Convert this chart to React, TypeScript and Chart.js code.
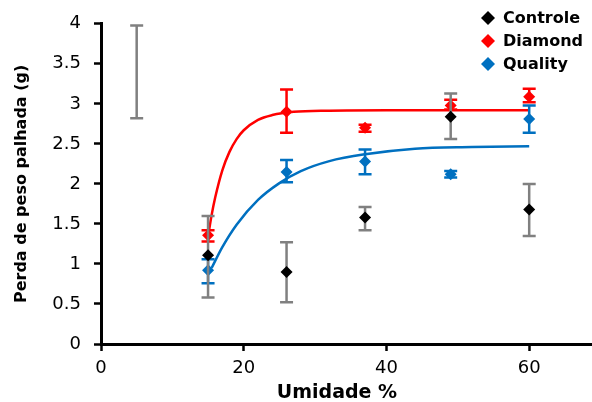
import React, { useEffect, useRef } from "react";
import { Chart, registerables } from "chart.js";

Chart.register(...registerables);

// Humidity levels (x)
const humidity = [15, 26, 37, 49, 60];

// Controle
const controleMean = [1.11, 0.9, 1.58, 2.84, 1.68];
const controleLow = [0.58, 0.52, 1.42, 2.56, 1.35];
const controleHigh = [1.6, 1.27, 1.71, 3.13, 2.0];

// Diamond
const diamondMean = [1.36, 2.9, 2.7, 2.98, 3.09];
const diamondLow = [1.28, 2.64, 2.65, 2.93, 3.02];
const diamondHigh = [1.42, 3.18, 2.74, 3.05, 3.19];

// Quality
const qualityMean = [0.92, 2.15, 2.28, 2.12, 2.81];
const qualityLow = [0.76, 2.02, 2.12, 2.08, 2.64];
const qualityHigh = [1.06, 2.3, 2.43, 2.16, 2.98];

// Stray grey error bar near the y axis
const strayX = 5;
const strayLow = 2.82;
const strayHigh = 3.98;

// Fitted curves
const redCurveX = [15, 15.5, 16, 17, 18, 19, 20, 22, 24, 27, 32, 40, 50, 60];
const redCurveY = [1.34, 1.61, 1.83, 2.17, 2.4, 2.56, 2.67, 2.8, 2.86, 2.9, 2.915, 2.92, 2.92, 2.92];
const blueCurveX = [15.5, 17, 19, 22, 25, 28, 32, 37, 44, 52, 60];
const blueCurveY = [0.95, 1.21, 1.49, 1.8, 2.01, 2.16, 2.285, 2.37, 2.44, 2.46, 2.47];

const xTicks = [0, 20, 40, 60];
const legendLabels = ["Controle", "Diamond", "Quality"];

const BLACK = "#000000";
const GREY = "#808080";
const RED = "#FF0000";
const BLUE = "#0070C0";
const legendColors = [BLACK, RED, BLUE];

const pts = (xs: number[], ys: number[]) => xs.map((x, i) => ({ x, y: ys[i] }));

function drawBar(ctx: any, x: number, y1: number, y2: number) {
  ctx.beginPath();
  ctx.moveTo(x, y1);
  ctx.lineTo(x, y2);
  ctx.moveTo(x - 6.5, y1);
  ctx.lineTo(x + 6.5, y1);
  ctx.moveTo(x - 6.5, y2);
  ctx.lineTo(x + 6.5, y2);
  ctx.stroke();
}

const errorBarPlugin = {
  id: "errorBars",
  beforeDatasetsDraw(chart: any) {
    const { ctx, scales } = chart;
    ctx.save();
    ctx.strokeStyle = GREY;
    ctx.lineWidth = 2.5;
    drawBar(
      ctx,
      scales.x.getPixelForValue(strayX),
      scales.y.getPixelForValue(strayLow),
      scales.y.getPixelForValue(strayHigh)
    );
    ctx.restore();
  },
  beforeDatasetDraw(chart: any, args: any) {
    const ds = chart.data.datasets[args.index];
    if (!ds.errLow) return;
    const { ctx, scales } = chart;
    ctx.save();
    ctx.strokeStyle = ds.errColor;
    ctx.lineWidth = 2.5;
    ds.data.forEach((p: any, i: number) => {
      drawBar(
        ctx,
        scales.x.getPixelForValue(p.x),
        scales.y.getPixelForValue(ds.errLow[i]),
        scales.y.getPixelForValue(ds.errHigh[i])
      );
    });
    ctx.restore();
  },
};

const textPlugin = {
  id: "texts",
  afterDraw(chart: any) {
    const { ctx, chartArea } = chart;
    ctx.save();
    // legend
    ctx.font = "bold 16px 'DejaVu Sans'";
    ctx.textBaseline = "middle";
    ctx.textAlign = "left";
    legendLabels.forEach((lab, i) => {
      const cy = 18 + i * 23;
      const cx = 488;
      const r = 7;
      ctx.fillStyle = legendColors[i];
      ctx.beginPath();
      ctx.moveTo(cx, cy - r);
      ctx.lineTo(cx + r, cy);
      ctx.lineTo(cx, cy + r);
      ctx.lineTo(cx - r, cy);
      ctx.closePath();
      ctx.fill();
      ctx.fillStyle = BLACK;
      ctx.fillText(lab, 503, cy + 1);
    });
    // axis titles
    ctx.fillStyle = BLACK;
    ctx.textAlign = "center";
    ctx.font = "bold 19px 'DejaVu Sans'";
    ctx.fillText("Umidade %", 337, 393);
    ctx.translate(22, (chartArea.top + chartArea.bottom) / 2);
    ctx.rotate(-Math.PI / 2);
    ctx.font = "bold 16px 'DejaVu Sans'";
    ctx.fillText("Perda de peso palhada (g)", 0, 0);
    ctx.restore();
  },
};

const scatterSet = (label: string, ys: number[], lo: number[], hi: number[], color: string, errColor: string) =>
  ({
    label,
    data: pts(humidity, ys),
    backgroundColor: color,
    borderColor: color,
    pointStyle: "rectRot",
    pointRadius: 6,
    borderWidth: 0,
    errLow: lo,
    errHigh: hi,
    errColor,
  } as any);

const curveSet = (label: string, xs: number[], ys: number[], color: string) =>
  ({
    label,
    data: pts(xs, ys),
    showLine: true,
    borderColor: color,
    borderWidth: 2.5,
    pointRadius: 0,
    tension: 0.4,
    cubicInterpolationMode: "monotone",
  } as any);

export default function App() {
  const ref = useRef<HTMLCanvasElement>(null);
  useEffect(() => {
    const chart = new Chart(ref.current!, {
      type: "scatter",
      data: {
        datasets: [
          scatterSet("Controle", controleMean, controleLow, controleHigh, BLACK, GREY),
          scatterSet("Diamond", diamondMean, diamondLow, diamondHigh, RED, RED),
          scatterSet("Quality", qualityMean, qualityLow, qualityHigh, BLUE, BLUE),
          curveSet("fitDiamond", redCurveX, redCurveY, RED),
          curveSet("fitQuality", blueCurveX, blueCurveY, BLUE),
        ],
      },
      options: {
        responsive: false,
        animation: false,
        layout: { autoPadding: false, padding: { top: 20, right: 0, left: 0, bottom: 0 } },
        plugins: { legend: { display: false }, tooltip: { enabled: false } },
        scales: {
          x: {
            type: "linear",
            min: 0,
            max: 68.8,
            afterFit: (s: any) => {
              s.height = 58;
              s.paddingLeft = 0;
              s.paddingRight = 0;
            },
            afterBuildTicks: (s: any) => {
              s.ticks = xTicks.map((v) => ({ value: v }));
            },
            ticks: {
              color: BLACK,
              font: { family: "'DejaVu Sans'", size: 18 },
              padding: 7,
              callback: (v: any) => String(v),
            },
            grid: {
              drawOnChartArea: false,
              drawTicks: true,
              tickLength: 7,
              tickWidth: 2.5,
              tickColor: BLACK,
            },
            border: { display: true, color: BLACK, width: 3 },
          },
          y: {
            type: "linear",
            min: 0,
            max: 4,
            afterFit: (s: any) => {
              s.width = 101;
            },
            ticks: {
              stepSize: 0.5,
              color: BLACK,
              font: { family: "'DejaVu Sans'", size: 18 },
              padding: 13,
              callback: (v: any) => String(v),
            },
            grid: {
              drawOnChartArea: false,
              drawTicks: true,
              tickLength: 7,
              tickWidth: 2.5,
              tickColor: BLACK,
            },
            border: { display: true, color: BLACK, width: 3 },
          },
        },
      },
      plugins: [errorBarPlugin, textPlugin],
    } as any);
    return () => chart.destroy();
  }, []);
  return (
    <div style={{ position: "absolute", left: 0, top: 0, width: 592, height: 402, background: "#fff" }}>
      <canvas ref={ref} width={592} height={402} style={{ display: "block" }} />
    </div>
  );
}
